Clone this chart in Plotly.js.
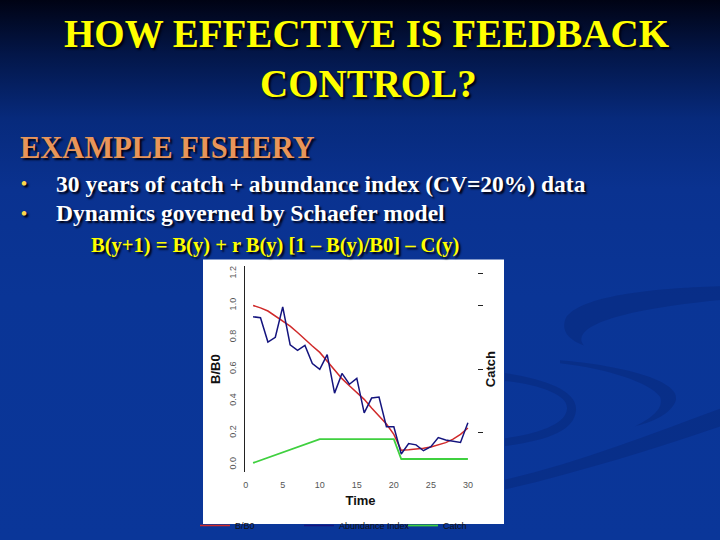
<!DOCTYPE html>
<html>
<head>
<meta charset="utf-8">
<script src="https://cdn.plot.ly/plotly-3.0.1.min.js"></script>
<style>
  html, body { margin: 0; padding: 0; }
  body { width: 720px; height: 540px; overflow: hidden;
    background: linear-gradient(to bottom, #000314 0%, #031648 10%, #072a7c 22%, #0a3290 35%, #0a3596 55%, #0a3699 100%); }
  #chart { width: 720px; height: 540px; }
</style>
</head>
<body>
<div id="chart"></div>
<script>
// ---- data ----
const years = [1,2,3,4,5,6,7,8,9,10,11,12,13,14,15,16,17,18,19,20,21,22,23,24,25,26,27,28,29,30];
const bOverB0 = [1.00,0.985,0.965,0.935,0.905,0.87,0.83,0.785,0.745,0.705,0.65,0.59,0.54,0.495,0.455,0.41,0.355,0.305,0.255,0.19,0.09,0.093,0.097,0.103,0.11,0.122,0.138,0.16,0.19,0.23];
const abundanceIndex = [0.929,0.923,0.77,0.80,0.991,0.753,0.718,0.749,0.635,0.598,0.691,0.449,0.573,0.505,0.542,0.325,0.418,0.424,0.238,0.238,0.066,0.132,0.124,0.087,0.112,0.17,0.155,0.149,0.139,0.263];
const catchSeries = [0.01,0.027,0.044,0.061,0.078,0.094,0.11,0.127,0.144,0.16,0.16,0.16,0.16,0.16,0.16,0.16,0.16,0.16,0.16,0.16,0.035,0.035,0.035,0.035,0.035,0.035,0.035,0.035,0.035,0.035];
const xTicks = [0,5,10,15,20,25,30];
const xMarkTicks = [10,15,20,30];
const yTicks = [0,0.2,0.4,0.6,0.8,1.0,1.2];
const yTickText = ["0.0","0.2","0.4","0.6","0.8","1.0","1.2"];
const rightTicks = [0.2,0.6,1.0,1.2];
const seriesNames = ["B/B0","Abundance Index","Catch"];

const W = 720, H = 540;
const px = v => v / W;
const py = v => 1 - v / H;

const xDom = [px(244.5), px(476.5)];
const yDom = [py(478.4), py(269.5)];
const xRange = [-0.16, 31.16];
const yRange = [-0.048, 1.248];
const sans = "Liberation Sans, Arial, sans-serif";
const serif = "Liberation Serif, Times New Roman, serif";

const traces = [
  {x: years, y: bOverB0, name: seriesNames[0], type: 'scatter', mode: 'lines',
   line: {color: '#d02a2a', width: 1.5}, xaxis: 'x', yaxis: 'y'},
  {x: years, y: abundanceIndex, name: seriesNames[1], type: 'scatter', mode: 'lines',
   line: {color: '#14147e', width: 1.5}, xaxis: 'x', yaxis: 'y'},
  {x: years, y: catchSeries, name: seriesNames[2], type: 'scatter', mode: 'lines',
   line: {color: '#3fd03f', width: 1.8}, xaxis: 'x', yaxis: 'y2'}
];

const shadow = "2px 2px 2px #000010";
function txt(text, x, y, size, color, anchor) {
  return {text: text, xref: 'paper', yref: 'paper', x: px(x), y: py(y),
    xanchor: anchor || 'center', yanchor: 'middle', showarrow: false,
    font: {family: serif, size: size, color: color, weight: 'bold', shadow: shadow}};
}
// decorative background swoosh bands (pixel-space path -> paper path)
function band(cmds) {
  const p = cmds.replace(/(-?\d+(?:\.\d+)?)\s+(-?\d+(?:\.\d+)?)/g,
    (m, a, b) => (px(+a)).toFixed(4) + ',' + (py(+b)).toFixed(4));
  return {type: 'path', xref: 'paper', yref: 'paper', path: p,
    fillcolor: 'rgba(0,18,80,0.2)', line: {width: 0}, layer: 'below'};
}
const layout = {
  width: W, height: H, autosize: false,
  margin: {l: 0, r: 0, t: 0, b: 0},
  paper_bgcolor: 'rgba(0,0,0,0)', plot_bgcolor: 'rgba(0,0,0,0)',
  showlegend: true,
  legend: {orientation: 'h', x: px(195), y: py(518), xanchor: 'left', yanchor: 'top',
    font: {family: sans, size: 9, color: '#111'}, bgcolor: 'rgba(0,0,0,0)',
    entrywidth: 59, entrywidthmode: 'pixels', tracegroupgap: 0},
  xaxis: {domain: xDom, range: xRange, tickvals: xTicks, ticks: '', showline: false,
    zeroline: false, showgrid: false, anchor: 'y',
    tickfont: {family: sans, size: 9, color: '#555'}, ticklabelstandoff: 6,
    title: {text: '<b>Time</b>', font: {family: sans, size: 13, color: '#111'}, standoff: 6}},
  xaxis2: {domain: xDom, range: xRange, overlaying: 'x', side: 'top', anchor: 'y',
    showline: true, linecolor: '#222', linewidth: 1, ticks: '', showticklabels: false,
    showgrid: false, zeroline: false},
  xaxis3: {domain: xDom, range: xRange, overlaying: 'x', side: 'bottom', anchor: 'y',
    tickvals: xMarkTicks, ticks: 'outside', ticklen: 5, tickcolor: '#222', tickwidth: 1,
    showticklabels: false, showline: false, showgrid: false, zeroline: false},
  yaxis: {domain: yDom, range: yRange, tickvals: yTicks, ticktext: yTickText, tickangle: -90,
    ticks: '', showline: true, linecolor: '#222', linewidth: 1, showgrid: false, zeroline: false,
    anchor: 'x', tickfont: {family: sans, size: 9, color: '#555'}, ticklabelstandoff: 4,
    title: {text: '<b>B/B0</b>', font: {family: sans, size: 13, color: '#111'}, standoff: 4}},
  yaxis2: {domain: yDom, range: yRange, overlaying: 'y', side: 'right', anchor: 'x',
    tickvals: rightTicks, ticks: 'outside', ticklen: 5, tickcolor: '#222', tickwidth: 1,
    showticklabels: false, showline: false, showgrid: false, zeroline: false,
    title: {text: '<b>Catch</b>', font: {family: sans, size: 13, color: '#111'}, standoff: 4}},
  shapes: [
    band('M 720 290 C 650 292 580 300 566 322 C 560 336 570 345 584 350 C 576 340 580 318 720 304 Z'),
    band('M 505 378 C 545 384 578 396 576 416 C 574 436 550 446 505 452 L 505 444 C 545 438 566 428 567 414 C 568 400 540 390 505 386 Z'),
    band('M 560 365 C 620 370 680 385 676 405 C 672 420 650 428 635 432 C 655 422 664 412 660 402 C 650 388 610 374 560 368 Z'),
    band('M 505 486 C 580 468 650 440 720 414 L 720 432 C 650 456 580 478 505 496 Z'),
    {type: 'rect', xref: 'paper', yref: 'paper', x0: px(203), x1: px(504), y0: py(531), y1: py(263),
     fillcolor: '#ffffff', line: {width: 0}, layer: 'below'}
  ],
  annotations: [
    txt('HOW EFFECTIVE IS FEEDBACK', 367, 34, 39, '#ffff00'),
    txt('CONTROL?', 368, 85, 39, '#ffff00'),
    txt('EXAMPLE FISHERY', 18, 150, 30.5, '#e8955a', 'left'),
    txt('•', 19, 186, 17, '#ffd84a', 'left'),
    txt('•', 19, 216, 17, '#ffd84a', 'left'),
    txt('30 years of catch + abundance index (CV=20%) data', 54, 186, 23.5, '#ffffff', 'left'),
    txt('Dynamics governed by Schaefer model', 54, 216, 23.5, '#ffffff', 'left'),
    txt('B(y+1) = B(y) + r B(y) [1 – B(y)/B0] – C(y)', 89, 249, 20.5, '#ffff00', 'left')
  ]
};

Plotly.newPlot('chart', traces, layout, {displayModeBar: false, staticPlot: true});
</script>
</body>
</html>
